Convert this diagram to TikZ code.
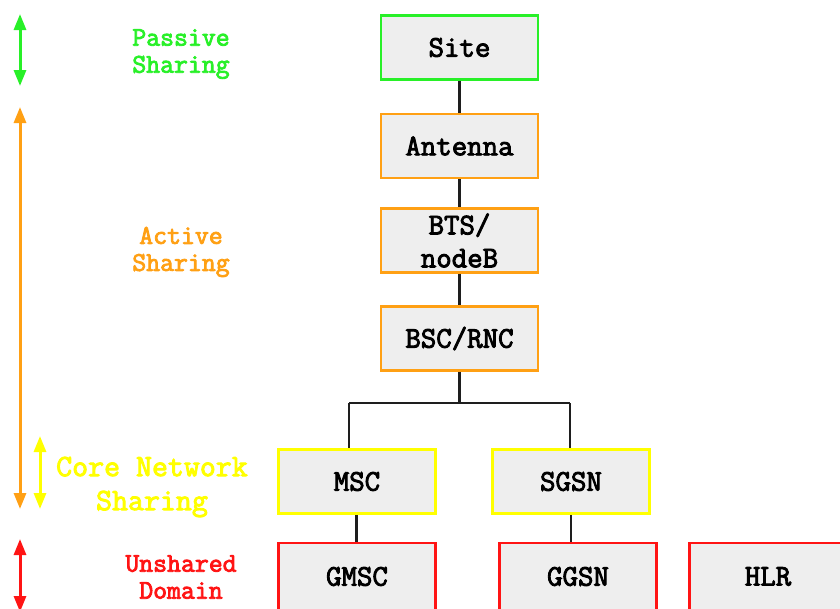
\documentclass[tikz,border=0pt]{standalone}
\usepackage{fontspec}
\newfontfamily\slabmono{Latin Modern Mono}[FakeBold=3]
\usetikzlibrary{arrows.meta}
\definecolor{gpass}{RGB}{40,240,40}
\definecolor{gact}{RGB}{255,160,20}
\definecolor{gcore}{RGB}{255,255,0}
\definecolor{gunsh}{RGB}{255,20,20}
\definecolor{boxfill}{RGB}{238,238,238}
\definecolor{wire}{RGB}{30,30,30}
\tikzset{
  elem/.style={draw, line width=2.6pt, fill=boxfill, minimum width=157pt, minimum height=64pt,
    inner sep=0pt, align=center, font=\slabmono\fontsize{30}{33}\selectfont, text=black},
  passbox/.style={elem, draw=gpass},
  actbox/.style={elem, draw=gact},
  corebox/.style={elem, draw=gcore},
  unshbox/.style={elem, draw=gunsh},
  wirestyle/.style={draw=wire, line width=2.8pt},
  span/.style={line width=3pt, {Triangle[width=12pt,length=16pt]}-{Triangle[width=12pt,length=16pt]}},
  lbl/.style={align=center, font=\slabmono\fontsize{27}{27}\selectfont}
}
\begin{document}
\begin{tikzpicture}[x=1pt,y=-1pt]
\useasboundingbox[fill=white] (0,0) rectangle (840,608);

% access chain
\node[passbox] (site) at (459.5,47.5) {Site};
\node[actbox] (ant) at (459.5,146) {Antenna};
\node[actbox] (bts) at (459.5,240.5) {BTS/\\nodeB};
\node[actbox] (bsc) at (459.5,338.5) {BSC/RNC};
% core
\node[corebox] (msc) at (357,481.5) {MSC};
\node[corebox] (sgsn) at (571,481.5) {SGSN};
% unshared elements
\node[unshbox, minimum height=67pt] (gmsc) at (357,576.5) {GMSC};
\node[unshbox, minimum height=67pt] (ggsn) at (578,576.5) {GGSN};
\node[unshbox, minimum height=67pt] (hlr) at (768,576.5) {HLR};

% links
\draw[wirestyle] (site) -- (ant);
\draw[wirestyle] (ant) -- (bts);
\draw[wirestyle] (bts) -- (bsc);
\coordinate (split) at (459.5,403);
\draw[wirestyle] (bsc.south) -- (split);
\draw[wirestyle] (349,403) -- (570,403);
\draw[wirestyle] (349,403) -- (msc.north -| 349,0);
\draw[wirestyle] (570,403) -- (sgsn.north -| 570,0);
\draw[wirestyle] (msc.south -| 356.5,0) -- (gmsc.north -| 356.5,0);
\draw[wirestyle] (sgsn.south -| 571,0) -- (ggsn.north -| 571,0);

% sharing levels
\coordinate (p1) at (20,14); \coordinate (p2) at (20,86);
\draw[span, gpass] (p1) -- (p2);
\node[lbl, text=gpass] (ptxt) at (181,54) {Passive\\Sharing};

\coordinate (a1) at (20,107); \coordinate (a2) at (20,509);
\draw[span, gact] (a1) -- (a2);
\node[lbl, text=gact] (atxt) at (181,252) {Active\\Sharing};

\coordinate (c1) at (40,436); \coordinate (c2) at (40,509);
\draw[span, gcore] (c1) -- (c2);
\node[lbl, text=gcore, font=\slabmono\fontsize{31}{34}\selectfont] (ctxt) at (152,487) {Core Network\\Sharing};

\coordinate (u1) at (20,539); \coordinate (u2) at (20,612);
\draw[span, gunsh] (u1) -- (u2);
\node[lbl, text=gunsh] (utxt) at (181,577) {Unshared\\Domain};
\end{tikzpicture}
\end{document}
